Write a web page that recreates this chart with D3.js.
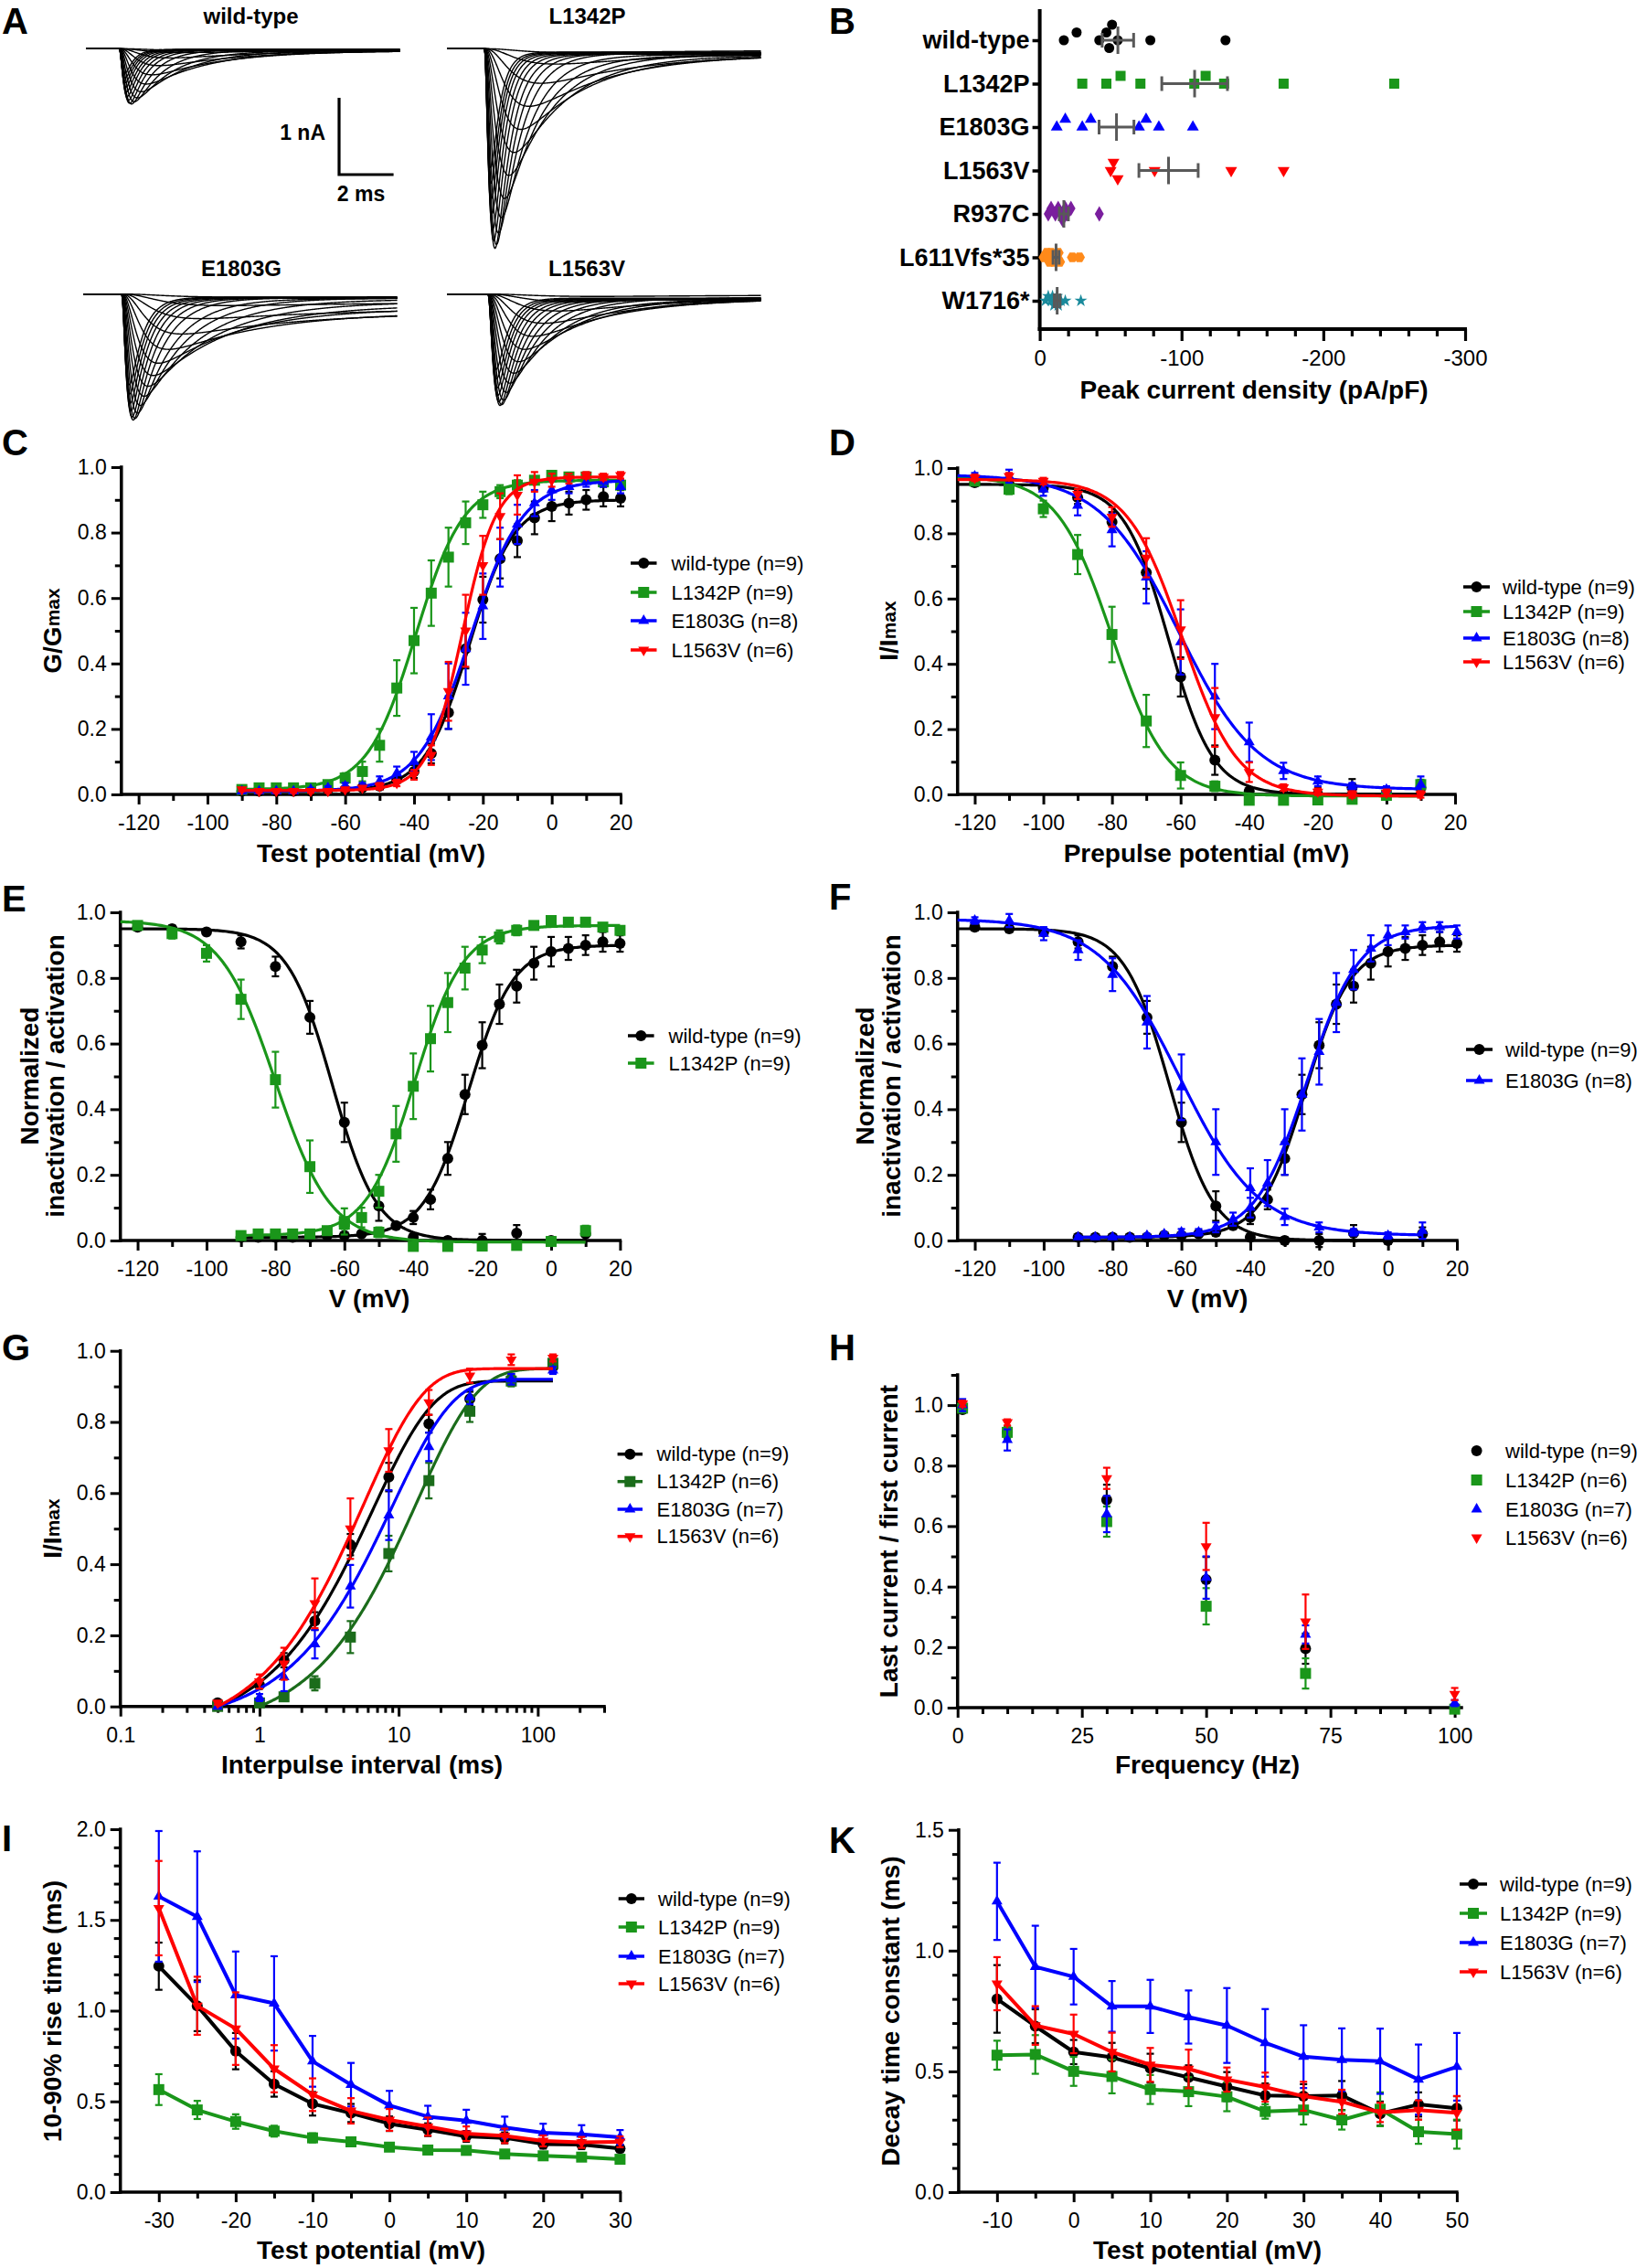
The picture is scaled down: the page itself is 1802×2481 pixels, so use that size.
<!DOCTYPE html>
<html><head><meta charset="utf-8">
<script src="https://cdn.jsdelivr.net/npm/d3@7/dist/d3.min.js"></script>
<style>html,body{margin:0;padding:0;background:#fff;}svg{display:block;}</style>
</head><body>
<svg id="fig" width="1802" height="2481" xmlns="http://www.w3.org/2000/svg"></svg>
<script>
// ================= DATA =================
// Panel A : current-trace families (peak amplitude nA, inactivation tau ms, persistent fraction)
const TRACE_TAU_M = [0.9,0.75,0.6,0.48,0.39,0.32,0.27,0.23,0.2,0.17,0.15,0.135,0.12,0.11,0.1,0.095,0.09,0.085];
const TR_WT_AMP  = [0.02,0.05,0.12,0.22,0.34,0.46,0.56,0.64,0.69,0.72,0.71,0.67,0.62,0.56,0.5,0.44,0.38,0.32];
const TR_WT_TAUH = [4.5,4.0,3.5,3.0,2.6,2.2,1.7,1.3,1.0,0.75,0.6,0.52,0.46,0.42,0.38,0.35,0.33,0.31];
const TR_WT_SS   = [0.3,0.2,0.1,0.06,0.04,0.03,0.02,0.02,0.01,0.01,0.01,0.01,0.01,0.01,0.01,0.01,0.01,0.01];
const TR_L1342P_AMP  = [0.05,0.2,0.45,0.75,1.05,1.35,1.65,1.95,2.2,2.4,2.55,2.6,2.5,2.35,2.15,1.95,1.75,1.55];
const TR_L1342P_TAUH = [5.0,4.2,3.5,2.9,2.4,2.0,1.6,1.25,1.0,0.8,0.65,0.55,0.48,0.43,0.39,0.36,0.34,0.32];
const TR_L1342P_SS   = [0.2,0.12,0.08,0.05,0.04,0.03,0.02,0.02,0.015,0.01,0.01,0.01,0.01,0.01,0.01,0.01,0.01,0.01];
const TR_E1803G_AMP  = [0.04,0.15,0.32,0.52,0.72,0.9,1.06,1.2,1.33,1.45,1.55,1.62,1.64,1.6,1.52,1.42,1.3,1.18];
const TR_E1803G_TAUH = [7,6,5,4.2,3.5,2.9,2.8,2.4,2.0,1.6,1.25,0.95,0.78,0.67,0.6,0.54,0.5,0.47];
const TR_E1803G_SS   = [0.6,0.5,0.4,0.3,0.2,0.12,0.08,0.05,0.03,0.02,0.02,0.015,0.015,0.015,0.015,0.015,0.015,0.015];
const TR_L1563V_AMP  = [0.03,0.1,0.22,0.38,0.55,0.72,0.88,1.03,1.16,1.28,1.38,1.44,1.45,1.4,1.32,1.22,1.1,0.98];
const TR_L1563V_TAUH = [6,5,4.2,3.5,2.9,2.4,2.0,1.65,1.35,1.1,0.9,0.75,0.65,0.58,0.52,0.48,0.45,0.42];
const TR_L1563V_SS   = [0.15,0.1,0.08,0.06,0.05,0.04,0.03,0.03,0.02,0.02,0.02,0.02,0.02,0.02,0.02,0.02,0.02,0.02];
const TR_ONSET = [1.2, 1.35, 1.38, 1.48];       // ms
const TR_TAUM_FACTOR = [1.0, 1.2, 1.3, 1.5];
const TR_TITLES = ['wild-type','L1342P','E1803G','L1563V'];

// Panel B : peak current density (pA/pF)
const B_CATS = ['wild-type','L1342P','E1803G','L1563V','R937C','L611Vfs*35','W1716*'];
const B_WT = [-17,-26,-42,-47,-49,-51,-55,-78,-131];
const B_L1342P = [-30,-47,-57,-71,-109,-117,-130,-172,-250];
const B_E1803G = [-12,-18,-30,-36,-70,-75,-84,-108];
const B_L1563V = [-50,-52,-55,-81,-135,-172];
const B_R937C = [-6,-8,-11,-13,-15,-16,-18,-19,-22,-42];
const B_L611 = [-3,-5,-6,-7,-8,-9,-10,-12,-13,-14,-23,-28];
const B_W1716 = [-4,-6,-8,-9,-10,-11,-12,-13,-15,-18,-29];
const B_X_TICKS = [0,-100,-200,-300];
const B_X_MINOR = [-20,-40,-60,-80,-120,-140,-160,-180,-220,-240,-260,-280];

// Panel C / E / F : activation (G/Gmax)
const ACT_V = [-90,-85,-80,-75,-70,-65,-60,-55,-50,-45,-40,-35,-30,-25,-20,-15,-10,-5,0,5,10,15,20];
const ACT_WT = [0.01,0.01,0.01,0.01,0.01,0.015,0.015,0.02,0.025,0.045,0.07,0.125,0.25,0.445,0.595,0.72,0.775,0.845,0.88,0.89,0.9,0.91,0.905];
const ACT_WT_ERR = [0.005,0.005,0.005,0.005,0.005,0.005,0.005,0.005,0.01,0.01,0.02,0.03,0.05,0.06,0.07,0.06,0.05,0.05,0.045,0.035,0.03,0.03,0.025];
const ACT_L1342P = [0.015,0.02,0.02,0.02,0.02,0.03,0.05,0.07,0.15,0.325,0.47,0.615,0.725,0.83,0.885,0.925,0.945,0.96,0.975,0.97,0.97,0.955,0.945];
const ACT_L1342P_ERR = [0.005,0.005,0.005,0.005,0.005,0.01,0.015,0.03,0.05,0.085,0.1,0.1,0.09,0.065,0.04,0.02,0.015,0.01,0.01,0.01,0.01,0.01,0.01];
const ACT_E1803G = [0.01,0.01,0.01,0.01,0.015,0.02,0.025,0.025,0.04,0.065,0.1,0.175,0.3,0.445,0.575,0.725,0.825,0.89,0.93,0.94,0.955,0.955,0.94];
const ACT_E1803G_ERR = [0.005,0.005,0.005,0.005,0.005,0.005,0.01,0.01,0.015,0.02,0.03,0.07,0.1,0.11,0.1,0.09,0.06,0.04,0.03,0.02,0.015,0.015,0.02];
const ACT_L1563V = [0.015,0.01,0.01,0.01,0.01,0.01,0.015,0.02,0.025,0.035,0.06,0.12,0.315,0.5,0.7,0.85,0.915,0.955,0.96,0.965,0.975,0.97,0.975];
const ACT_L1563V_ERR = [0.005,0.005,0.005,0.005,0.005,0.005,0.005,0.005,0.01,0.01,0.015,0.03,0.09,0.11,0.09,0.07,0.06,0.03,0.02,0.015,0.01,0.01,0.01];
// Boltzmann fit parameters [top, bottom, V1/2, k]
const FIT_ACT_WT = [0.9, 0.01, -24, 6.5];
const FIT_ACT_L1342P = [0.96, 0.015, -39.5, 7];
const FIT_ACT_E1803G = [0.96, 0.01, -23.5, 7.5];
const FIT_ACT_L1563V = [0.97, 0.012, -26, 5];

// Panel D / E / F : steady-state inactivation (I/Imax)
const INACT_V = [-120,-110,-100,-90,-80,-70,-60,-50,-40,-30,-20,-10,0,10];
const INACT_WT = [0.955,0.95,0.94,0.91,0.835,0.68,0.36,0.105,0.01,0.0,0.0,0.022,0.0,0.02];
const INACT_WT_ERR = [0.01,0.01,0.01,0.02,0.03,0.05,0.06,0.045,0.01,0.01,0.02,0.025,0.01,0.02];
const INACT_L1342P = [0.96,0.935,0.875,0.735,0.49,0.225,0.058,0.025,-0.018,-0.018,-0.017,-0.015,-0.003,0.03];
const INACT_L1342P_ERR = [0.01,0.015,0.025,0.06,0.085,0.08,0.04,0.015,0.01,0.01,0.01,0.01,0.01,0.015];
const INACT_E1803G = [0.975,0.975,0.935,0.885,0.81,0.665,0.467,0.3,0.16,0.072,0.04,0.025,0.015,0.03];
const INACT_E1803G_ERR = [0.01,0.02,0.02,0.03,0.05,0.08,0.1,0.1,0.06,0.025,0.015,0.01,0.01,0.025];
const INACT_L1563V = [0.97,0.975,0.96,0.92,0.85,0.725,0.505,0.236,0.068,0.021,0.008,0.0,0.005,0.0];
const INACT_L1563V_ERR = [0.01,0.01,0.01,0.015,0.03,0.06,0.09,0.09,0.03,0.01,0.01,0.01,0.01,0.01];
const FIT_INACT_WT = [0.95, 0.0, -63.5, 6.5];
const FIT_INACT_L1342P = [0.975, -0.005, -80, 8];
const FIT_INACT_E1803G = [0.98, 0.015, -60.5, 11.5];
const FIT_INACT_L1563V = [0.965, -0.005, -59.5, 8];

// Panel G : recovery from inactivation
const REC_T = [0.5,1,1.5,2.5,4.5,8.5,16.5,32.5,64.5,128.5];
const REC_WT = [0.01,0.06,0.13,0.24,0.455,0.645,0.795,0.865,0.92,0.955];
const REC_WT_ERR = [0.005,0.01,0.02,0.025,0.03,0.04,0.025,0.02,0.015,0.01];
const REC_L1342P = [0.0,0.01,0.027,0.065,0.195,0.43,0.635,0.83,0.915,0.965];
const REC_L1342P_ERR = [0.005,0.01,0.01,0.02,0.045,0.05,0.05,0.03,0.015,0.015];
const REC_E1803G = [0.0,0.025,0.083,0.175,0.338,0.538,0.73,0.87,0.92,0.945];
const REC_E1803G_ERR = [0.005,0.01,0.04,0.04,0.06,0.07,0.04,0.02,0.015,0.01];
const REC_L1563V = [0.01,0.07,0.12,0.29,0.5,0.72,0.855,0.93,0.975,0.98];
const REC_L1563V_ERR = [0.005,0.02,0.045,0.07,0.085,0.06,0.035,0.02,0.015,0.01];
// exponential fit [plateau, t0, tau]
const FIT_REC_WT = [0.915, 0.5, 6.5];
const FIT_REC_L1342P = [0.95, 1.0, 13.5];
const FIT_REC_E1803G = [0.92, 0.5, 9];
const FIT_REC_L1563V = [0.95, 0.5, 5.6];

// Panel H : frequency dependence
const FREQ = [1,10,30,50,70,100];
const FRQ_WT = [0.985,0.91,0.687,0.423,0.195,0.0];
const FRQ_WT_ERR = [0.01,0.02,0.05,0.075,0.05,0.005];
const FRQ_L1342P = [0.99,0.91,0.615,0.335,0.113,-0.005];
const FRQ_L1342P_ERR = [0.01,0.02,0.05,0.06,0.05,0.005];
const FRQ_E1803G = [1.0,0.885,0.64,0.43,0.242,0.015];
const FRQ_E1803G_ERR = [0.02,0.035,0.06,0.07,0.03,0.01];
const FRQ_L1563V = [1.005,0.943,0.758,0.533,0.284,0.045];
const FRQ_L1563V_ERR = [0.01,0.01,0.035,0.078,0.09,0.02];

// Panel I : 10-90% rise time
const RISE_V = [-30,-25,-20,-15,-10,-5,0,5,10,15,20,25,30];
const RISE_WT = [1.245,1.027,0.777,0.596,0.487,0.436,0.377,0.344,0.307,0.299,0.265,0.262,0.24];
const RISE_WT_ERR = [0.13,0.14,0.1,0.07,0.065,0.05,0.04,0.035,0.03,0.03,0.025,0.025,0.02];
const RISE_L1342P = [0.565,0.453,0.389,0.336,0.299,0.277,0.248,0.232,0.23,0.21,0.2,0.193,0.181];
const RISE_L1342P_ERR = [0.085,0.05,0.04,0.03,0.025,0.02,0.015,0.015,0.015,0.015,0.015,0.01,0.01];
const RISE_E1803G = [1.63,1.518,1.086,1.04,0.721,0.592,0.478,0.416,0.394,0.356,0.327,0.319,0.302];
const RISE_E1803G_ERR = [0.36,0.36,0.24,0.26,0.14,0.12,0.08,0.06,0.06,0.06,0.05,0.05,0.04];
const RISE_L1563V = [1.565,1.027,0.901,0.68,0.537,0.448,0.398,0.361,0.322,0.31,0.282,0.274,0.277];
const RISE_L1563V_ERR = [0.26,0.16,0.2,0.13,0.09,0.07,0.06,0.05,0.04,0.04,0.03,0.03,0.03];

// Panel K : decay time constant
const DEC_V = [-10,-5,0,5,10,15,20,25,30,35,40,45,50];
const DEC_WT = [0.8,0.687,0.58,0.558,0.513,0.475,0.437,0.4,0.397,0.4,0.325,0.363,0.347];
const DEC_WT_ERR = [0.14,0.07,0.05,0.06,0.06,0.05,0.06,0.05,0.05,0.06,0.05,0.05,0.05];
const DEC_L1342P = [0.567,0.57,0.5,0.479,0.425,0.416,0.395,0.334,0.34,0.299,0.343,0.25,0.24];
const DEC_L1342P_ERR = [0.06,0.08,0.06,0.07,0.06,0.06,0.06,0.03,0.06,0.04,0.07,0.05,0.06];
const DEC_E1803G = [1.204,0.933,0.892,0.769,0.769,0.725,0.69,0.618,0.561,0.548,0.542,0.466,0.519];
const DEC_E1803G_ERR = [0.16,0.17,0.115,0.105,0.11,0.11,0.155,0.14,0.13,0.13,0.135,0.145,0.14];
const DEC_L1563V = [0.863,0.69,0.655,0.58,0.527,0.51,0.466,0.435,0.397,0.374,0.33,0.34,0.328];
const DEC_L1563V_ERR = [0.11,0.08,0.08,0.08,0.07,0.08,0.05,0.06,0.06,0.05,0.04,0.04,0.07];

// tick values
const MV_TICKS = [-120,-100,-80,-60,-40,-20,0,20];
const MV_MINOR = [-110,-90,-70,-50,-30,-10,10];
const FRAC_TICKS = [0,0.2,0.4,0.6,0.8,1.0];
const FRAC_MINOR = [0.1,0.3,0.5,0.7,0.9];
const LOG_TICKS = [0.1,1,10,100];
const LOG_MINOR = [0.2,0.3,0.4,0.5,0.6,0.7,0.8,0.9,2,3,4,5,6,7,8,9,20,30,40,50,60,70,80,90,200,300];
const HZ_TICKS = [0,25,50,75,100];
const HZ_MINOR = [5,10,15,20,30,35,40,45,55,60,65,70,80,85,90,95];
const H_Y_MINOR = [0.1,0.3,0.5,0.7,0.9,1.1];
const RISE_X_TICKS = [-30,-20,-10,0,10,20,30];
const RISE_X_MINOR = [-25,-15,-5,5,15,25];
const RISE_Y_TICKS = [0,0.5,1.0,1.5,2.0];
const RISE_Y_MINOR = [0.1,0.2,0.3,0.4,0.6,0.7,0.8,0.9,1.1,1.2,1.3,1.4,1.6,1.7,1.8,1.9];
const DEC_X_TICKS = [-10,0,10,20,30,40,50];
const DEC_X_MINOR = [-5,5,15,25,35,45];
const DEC_Y_TICKS = [0,0.5,1.0,1.5];
const DEC_Y_MINOR = [0.1,0.2,0.3,0.4,0.6,0.7,0.8,0.9,1.1,1.2,1.3,1.4];

const LEG_4A = ['wild-type (n=9)','L1342P (n=9)','E1803G (n=8)','L1563V (n=6)'];
const LEG_4G = ['wild-type (n=9)','L1342P (n=6)','E1803G (n=7)','L1563V (n=6)'];
const LEG_4I = ['wild-type (n=9)','L1342P (n=9)','E1803G (n=7)','L1563V (n=6)'];
const LEG_E = ['wild-type (n=9)','L1342P (n=9)'];
const LEG_F = ['wild-type (n=9)','E1803G (n=8)'];

// ================= STYLE =================
const FONT = '"Liberation Sans", Arial, Helvetica, sans-serif';
const BLACK = '#000000', GREEN = '#1a961a', GREEN_D = '#1b6c1b', BLUE = '#0000ff', RED = '#ff0000';
const PURPLE = '#7a1e9e', ORANGE = '#ff8a1a', TEAL = '#1a8a9c', GRAY = '#595959';
const SHAPES = ['circle','square','triUp','triDown'];

const svg = d3.select('#fig').attr('font-family', FONT);

function symPath(shape, s) {
  const gen = d3.symbol();
  switch (shape) {
    case 'circle': return gen.type(d3.symbolCircle).size(Math.PI * s * s / 4)();
    case 'square': return gen.type(d3.symbolSquare).size(s * s)();
    case 'triUp': case 'triDown': return gen.type(d3.symbolTriangle).size(0.433 * s * s)();
    case 'diamond': return gen.type(d3.symbolDiamond).size(s * s * 0.5)();
    case 'star': return gen.type(d3.symbolStar).size(s * s * 0.42)();
    case 'hex': {
      const r = s / 2, p = d3.path();
      for (let i = 0; i < 6; i++) { const a = Math.PI / 3 * i; const fx = r * Math.cos(a), fy = r * Math.sin(a); i ? p.lineTo(fx, fy) : p.moveTo(fx, fy); }
      p.closePath(); return p.toString();
    }
  }
}
function marker(g, shape, s, x, y, color) {
  g.append('path').attr('d', symPath(shape, s))
    .attr('transform', `translate(${x},${y})` + (shape === 'triDown' ? ' rotate(180)' : ''))
    .attr('fill', color);
}
function panelLabel(t, x, y) {
  svg.append('text').attr('x', x).attr('y', y).attr('font-size', 40).attr('font-weight', 'bold').text(t);
}
const fmt1 = d => d.toFixed(1);
const fmtI = d => String(d);

function axisX(g, x, yPos, major, minor, fmt, xEnd) {
  const gg = g.append('g').attr('transform', `translate(0,${yPos})`);
  if (minor && minor.length) {
    const m = gg.append('g').call(d3.axisBottom(x).tickValues(minor).tickSize(7).tickSizeOuter(0).tickFormat(''));
    m.select('.domain').remove(); m.selectAll('line').attr('stroke-width', 3);
  }
  const M = gg.append('g').call(d3.axisBottom(x).tickValues(major).tickSize(11).tickSizeOuter(0).tickPadding(12).tickFormat(fmt))
    .attr('font-size', 23).attr('font-family', FONT);
  M.select('.domain').remove(); M.selectAll('line').attr('stroke-width', 3);
  const r = x.range();
  gg.append('line').attr('x1', r[0]).attr('x2', xEnd || r[1]).attr('stroke', '#000').attr('stroke-width', 3.5).attr('stroke-linecap', 'square');
}
function axisY(g, y, xPos, major, minor, fmt) {
  const gg = g.append('g').attr('transform', `translate(${xPos},0)`);
  if (minor && minor.length) {
    const m = gg.append('g').call(d3.axisLeft(y).tickValues(minor).tickSize(7).tickSizeOuter(0).tickFormat(''));
    m.select('.domain').remove(); m.selectAll('line').attr('stroke-width', 3);
  }
  const M = gg.append('g').call(d3.axisLeft(y).tickValues(major).tickSize(11).tickSizeOuter(0).tickPadding(5).tickFormat(fmt))
    .attr('font-size', 23).attr('font-family', FONT);
  M.select('.domain').remove(); M.selectAll('line').attr('stroke-width', 3);
  const r = y.range();
  gg.append('line').attr('y1', r[0]).attr('y2', r[1]).attr('stroke', '#000').attr('stroke-width', 3.5).attr('stroke-linecap', 'square');
}

function drawSeries(g, x, y, s) {
  const gg = g.append('g');
  s.xv.forEach((xv, i) => {
    const e = s.err ? s.err[i] : 0;
    if (!(e > 0)) return;
    const px = x(xv), y1 = y(s.yv[i] + e), y2 = y(s.yv[i] - e);
    gg.append('line').attr('x1', px).attr('x2', px).attr('y1', y1).attr('y2', y2).attr('stroke', s.color).attr('stroke-width', 2.2);
    [y1, y2].forEach(yy => gg.append('line').attr('x1', px - 4).attr('x2', px + 4).attr('y1', yy).attr('y2', yy).attr('stroke', s.color).attr('stroke-width', 2.2));
  });
  if (s.fit) {
    const f = s.fit, n = 240;
    const pts = d3.range(n + 1).map(i => f.log
      ? Math.exp(Math.log(f.from) + i / n * (Math.log(f.to) - Math.log(f.from)))
      : f.from + i / n * (f.to - f.from));
    gg.append('path').attr('d', d3.line().x(v => x(v)).y(v => y(f.fn(v)))(pts))
      .attr('fill', 'none').attr('stroke', s.color).attr('stroke-width', 3.2);
  }
  if (s.connect) {
    gg.append('path').attr('d', d3.line().x(d => x(d[0])).y(d => y(d[1]))(s.xv.map((v, i) => [v, s.yv[i]])))
      .attr('fill', 'none').attr('stroke', s.color).attr('stroke-width', 4).attr('stroke-linejoin', 'round');
  }
  s.xv.forEach((xv, i) => marker(gg, s.shape, s.size || 12, x(xv), y(s.yv[i]), s.color));
}

function legend(g, L) {
  L.names.forEach((n, i) => {
    const yy = L.rows[i];
    if (L.line) g.append('line').attr('x1', L.lx[0]).attr('x2', L.lx[1]).attr('y1', yy).attr('y2', yy).attr('stroke', L.colors[i]).attr('stroke-width', 3.5);
    marker(g, L.shapes[i], 12, (L.lx[0] + L.lx[1]) / 2, yy, L.colors[i]);
    g.append('text').attr('x', L.tx).attr('y', yy).attr('dy', '0.35em').attr('font-size', 22).text(n);
  });
}

function yTitle(g, x, yc, parts) {
  const t = g.append('text').attr('transform', `translate(${x},${yc}) rotate(-90)`)
    .attr('text-anchor', 'middle').attr('dominant-baseline', 'central').attr('font-weight', 'bold');
  parts.forEach(p => t.append('tspan').attr('font-size', p[1]).text(p[0]));
}

function panel(cfg) {
  const g = svg.append('g');
  const x = (cfg.log ? d3.scaleLog() : d3.scaleLinear()).domain(cfg.xDomain).range(cfg.xRange);
  const y = d3.scaleLinear().domain(cfg.yDomain).range(cfg.yRange);
  axisX(g, x, cfg.yRange[0], cfg.xMajor, cfg.xMinor, cfg.xFmt, cfg.xEnd);
  axisY(g, y, cfg.xRange[0], cfg.yMajor, cfg.yMinor, cfg.yFmt);
  g.append('text').attr('x', cfg.xTitle[1]).attr('y', cfg.xTitle[2]).attr('text-anchor', 'middle')
    .attr('font-size', 28).attr('font-weight', 'bold').text(cfg.xTitle[0]);
  cfg.yTitles.forEach(t => yTitle(g, t.x, t.y, t.parts));
  cfg.series.forEach(s => drawSeries(g, x, y, s));
  legend(g, cfg.legend);
}

const act = p => v => p[1] + (p[0] - p[1]) / (1 + Math.exp((p[2] - v) / p[3]));
const inact = p => v => p[1] + (p[0] - p[1]) / (1 + Math.exp((v - p[2]) / p[3]));
const recov = p => t => t <= p[1] ? 0 : p[0] * (1 - Math.exp(-(t - p[1]) / p[2]));

// ================= PANEL A =================
panelLabel('A', 2, 37);
(function () {
  const g = svg.append('g');
  const layout = [[94.5, 53.3], [489.5, 53.3], [91.6, 321.7], [489.5, 321.7]];
  const titlePos = [[274.5, 26], [642.5, 26], [264, 302], [642, 302]];
  const AMPS = [TR_WT_AMP, TR_L1342P_AMP, TR_E1803G_AMP, TR_L1563V_AMP];
  const TAUH = [TR_WT_TAUH, TR_L1342P_TAUH, TR_E1803G_TAUH, TR_L1563V_TAUH];
  const SS = [TR_WT_SS, TR_L1342P_SS, TR_E1803G_SS, TR_L1563V_SS];
  const ts = d3.range(0, 11.5001, 0.02);
  layout.forEach((L, k) => {
    const tx = d3.scaleLinear().domain([0, 11.5]).range([L[0], L[0] + 343]);
    const iy = d3.scaleLinear().domain([0, -1]).range([L[1], L[1] + 84]);
    AMPS[k].forEach((a, i) => {
      const tm = TRACE_TAU_M[i] * TR_TAUM_FACTOR[k], th = TAUH[k][i], p = SS[k][i];
      const f = tt => { if (tt <= 0) return 0; const m = 1 - Math.exp(-tt / tm), h = Math.exp(-tt / th); return m * m * m * (h + p * (1 - h)); };
      const fmax = d3.max(d3.range(0, 10, 0.005), f);
      g.append('path').attr('d', d3.line().x(t => tx(t)).y(t => iy(-a * f(t - TR_ONSET[k]) / fmax))(ts))
        .attr('fill', 'none').attr('stroke', '#000').attr('stroke-width', 1.4).attr('stroke-linejoin', 'round');
    });
    g.append('text').attr('x', titlePos[k][0]).attr('y', titlePos[k][1]).attr('text-anchor', 'middle')
      .attr('font-size', 24).attr('font-weight', 'bold').text(TR_TITLES[k]);
  });
  // scale bar: 1 nA, 2 ms
  const bx = d3.scaleLinear().domain([0, 2]).range([371, 430.6]);
  const by = d3.scaleLinear().domain([0, 1]).range([191, 107]);
  g.append('path').attr('d', `M${bx(0)},${by(1)}V${by(0)}H${bx(2)}`).attr('fill', 'none').attr('stroke', '#000').attr('stroke-width', 3.2);
  g.append('text').attr('x', 356).attr('y', 153).attr('text-anchor', 'end').attr('font-size', 23).attr('font-weight', 'bold').text('1 nA');
  g.append('text').attr('x', 395).attr('y', 220).attr('text-anchor', 'middle').attr('font-size', 23).attr('font-weight', 'bold').text('2 ms');
})();

// ================= PANEL B =================
panelLabel('B', 907, 37);
(function () {
  const g = svg.append('g');
  const x = d3.scaleLinear().domain([0, -300]).range([1137.6, 1603]);
  const y = d3.scalePoint().domain(B_CATS).range([44, 329]);
  const axTop = 12, axBot = 360;
  const gx = g.append('g').attr('transform', `translate(0,${axBot})`);
  const mn = gx.append('g').call(d3.axisBottom(x).tickValues(B_X_MINOR).tickSize(8).tickSizeOuter(0).tickFormat(''));
  mn.select('.domain').remove(); mn.selectAll('line').attr('stroke-width', 3.2);
  const mj = gx.append('g').call(d3.axisBottom(x).tickValues(B_X_TICKS).tickSize(13).tickSizeOuter(0).tickPadding(10).tickFormat(fmtI))
    .attr('font-size', 24).attr('font-family', FONT);
  mj.select('.domain').remove(); mj.selectAll('line').attr('stroke-width', 3.2);
  gx.append('line').attr('x1', x(0)).attr('x2', x(-300)).attr('stroke', '#000').attr('stroke-width', 4).attr('stroke-linecap', 'square');
  const gy = g.append('g').attr('transform', `translate(${x(0)},0)`);
  const ya = gy.append('g').call(d3.axisLeft(y).tickSize(8).tickSizeOuter(0).tickPadding(3))
    .attr('font-size', 27).attr('font-family', FONT).attr('font-weight', 'bold');
  ya.select('.domain').remove(); ya.selectAll('line').attr('stroke-width', 3.5);
  gy.append('line').attr('y1', axTop).attr('y2', axBot).attr('stroke', '#000').attr('stroke-width', 4).attr('stroke-linecap', 'square');
  g.append('text').attr('x', 1372).attr('y', 436).attr('text-anchor', 'middle').attr('font-size', 28).attr('font-weight', 'bold')
    .text('Peak current density (pA/pF)');

  // [values, shape, size, colour, collision width px, vertical step px]
  const groups = [
    [B_WT, 'circle', 11, BLACK, 16, 8.5], [B_L1342P, 'square', 11, GREEN, 17, 8.5], [B_E1803G, 'triUp', 13, BLUE, 17, 8.5],
    [B_L1563V, 'triDown', 13, RED, 17, 9], [B_R937C, 'diamond', 13, PURPLE, 5, 6], [B_L611, 'hex', 12, ORANGE, 4, 5],
    [B_W1716, 'star', 12, TEAL, 4, 5]];
  groups.forEach((G, k) => {
    const cy = y(B_CATS[k]);
    const wx = G[4], step = G[5];
    const pts = G[0].map(v => ({ v, px: x(v), dy: 0 })).sort((a, b) => a.px - b.px);
    const placed = [];
    pts.forEach(p => {
      for (const c of [0, -1, 1, -2, 2, -3, 3]) {
        const dy = c * step;
        if (placed.every(q => Math.abs(q.px - p.px) >= wx || Math.abs(q.dy - dy) >= step)) { p.dy = dy; break; }
      }
      placed.push(p);
    });
    pts.forEach(p => marker(g, G[1], G[2], p.px, cy + p.dy, G[3]));
    const m = d3.mean(G[0]), se = d3.deviation(G[0]) / Math.sqrt(G[0].length);
    const bar = g.append('g').attr('stroke', GRAY).attr('stroke-width', 3);
    bar.append('line').attr('x1', x(m - se)).attr('x2', x(m + se)).attr('y1', cy).attr('y2', cy);
    bar.append('line').attr('x1', x(m)).attr('x2', x(m)).attr('y1', cy - 15).attr('y2', cy + 15);
    [m - se, m + se].forEach(v => bar.append('line').attr('x1', x(v)).attr('x2', x(v)).attr('y1', cy - 8).attr('y2', cy + 8));
  });
})();

// ================= PANELS C-K =================
const COL4 = [BLACK, GREEN, BLUE, RED];
const actSeries = (xv, yv, err, fit, color, shape) => ({ xv, yv, err, color, shape, fit: { fn: act(fit), from: -90, to: 20 } });
const inSeries = (xv, yv, err, fit, color, shape) => ({ xv, yv, err, color, shape, fit: { fn: inact(fit), from: -125, to: 10 } });

panelLabel('C', 2, 498);
panel({
  xDomain: [-125, 20], xRange: [132.8, 679], yDomain: [0, 1], yRange: [869, 511],
  xMajor: MV_TICKS, xMinor: MV_MINOR, xFmt: fmtI, yMajor: FRAC_TICKS, yMinor: FRAC_MINOR, yFmt: fmt1,
  xTitle: ['Test potential (mV)', 406, 943],
  yTitles: [{ x: 57, y: 690, parts: [['G/G', 28], ['max', 21]] }],
  series: [
    actSeries(ACT_V, ACT_WT, ACT_WT_ERR, FIT_ACT_WT, BLACK, 'circle'),
    actSeries(ACT_V, ACT_L1342P, ACT_L1342P_ERR, FIT_ACT_L1342P, GREEN, 'square'),
    actSeries(ACT_V, ACT_E1803G, ACT_E1803G_ERR, FIT_ACT_E1803G, BLUE, 'triUp'),
    actSeries(ACT_V, ACT_L1563V, ACT_L1563V_ERR, FIT_ACT_L1563V, RED, 'triDown')],
  legend: { names: LEG_4A, rows: [616, 648, 679, 711], lx: [690, 718.5], tx: 734.5, line: true, colors: COL4, shapes: SHAPES }
});

panelLabel('D', 907, 498);
panel({
  xDomain: [-125, 20], xRange: [1047.7, 1592], yDomain: [0, 1], yRange: [869, 512],
  xMajor: MV_TICKS, xMinor: MV_MINOR, xFmt: fmtI, yMajor: FRAC_TICKS, yMinor: FRAC_MINOR, yFmt: fmt1,
  xTitle: ['Prepulse potential (mV)', 1320, 943],
  yTitles: [{ x: 972, y: 690, parts: [['I/I', 28], ['max', 21]] }],
  series: [
    inSeries(INACT_V, INACT_WT, INACT_WT_ERR, FIT_INACT_WT, BLACK, 'circle'),
    inSeries(INACT_V, INACT_L1342P, INACT_L1342P_ERR, FIT_INACT_L1342P, GREEN, 'square'),
    inSeries(INACT_V, INACT_E1803G, INACT_E1803G_ERR, FIT_INACT_E1803G, BLUE, 'triUp'),
    inSeries(INACT_V, INACT_L1563V, INACT_L1563V_ERR, FIT_INACT_L1563V, RED, 'triDown')],
  legend: { names: LEG_4A, rows: [642, 669, 698, 724], lx: [1601, 1630], tx: 1644, line: true, colors: COL4, shapes: SHAPES }
});

panelLabel('E', 2, 997);
panel({
  xDomain: [-125, 20], xRange: [131.7, 678.4], yDomain: [0, 1], yRange: [1357, 998],
  xMajor: MV_TICKS, xMinor: MV_MINOR, xFmt: fmtI, yMajor: FRAC_TICKS, yMinor: FRAC_MINOR, yFmt: fmt1,
  xTitle: ['V (mV)', 404, 1430],
  yTitles: [{ x: 31.5, y: 1177, parts: [['Normalized', 28]] }, { x: 60, y: 1177, parts: [['inactivation / activation', 28]] }],
  series: [
    inSeries(INACT_V, INACT_WT, INACT_WT_ERR, FIT_INACT_WT, BLACK, 'circle'),
    actSeries(ACT_V, ACT_WT, ACT_WT_ERR, FIT_ACT_WT, BLACK, 'circle'),
    inSeries(INACT_V, INACT_L1342P, INACT_L1342P_ERR, FIT_INACT_L1342P, GREEN, 'square'),
    actSeries(ACT_V, ACT_L1342P, ACT_L1342P_ERR, FIT_ACT_L1342P, GREEN, 'square')],
  legend: { names: LEG_E, rows: [1133, 1163], lx: [687, 715.6], tx: 731.6, line: true, colors: [BLACK, GREEN], shapes: ['circle', 'square'] }
});

panelLabel('F', 907, 995);
panel({
  xDomain: [-125, 20], xRange: [1047.7, 1594], yDomain: [0, 1], yRange: [1357, 998],
  xMajor: MV_TICKS, xMinor: MV_MINOR, xFmt: fmtI, yMajor: FRAC_TICKS, yMinor: FRAC_MINOR, yFmt: fmt1,
  xTitle: ['V (mV)', 1321, 1430],
  yTitles: [{ x: 946, y: 1177, parts: [['Normalized', 28]] }, { x: 975, y: 1177, parts: [['inactivation / activation', 28]] }],
  series: [
    inSeries(INACT_V, INACT_WT, INACT_WT_ERR, FIT_INACT_WT, BLACK, 'circle'),
    actSeries(ACT_V, ACT_WT, ACT_WT_ERR, FIT_ACT_WT, BLACK, 'circle'),
    inSeries(INACT_V, INACT_E1803G, INACT_E1803G_ERR, FIT_INACT_E1803G, BLUE, 'triUp'),
    actSeries(ACT_V, ACT_E1803G, ACT_E1803G_ERR, FIT_ACT_E1803G, BLUE, 'triUp')],
  legend: { names: LEG_F, rows: [1148, 1182], lx: [1604, 1633], tx: 1647, line: true, colors: [BLACK, BLUE], shapes: ['circle', 'triUp'] }
});

panelLabel('G', 2, 1488);
const recSeries = (yv, err, fit, color, shape) => ({ xv: REC_T, yv, err, color, shape, fit: { fn: recov(fit), from: fit[1], to: 128.5, log: true } });
panel({
  log: true, xDomain: [0.1, 300], xRange: [131.7, 661], yDomain: [0, 1], yRange: [1866.7, 1477.7],
  xMajor: LOG_TICKS, xMinor: LOG_MINOR, xFmt: fmtI, yMajor: FRAC_TICKS, yMinor: FRAC_MINOR, yFmt: fmt1,
  xTitle: ['Interpulse interval (ms)', 396, 1940],
  yTitles: [{ x: 57, y: 1672, parts: [['I/I', 28], ['max', 21]] }],
  series: [
    recSeries(REC_WT, REC_WT_ERR, FIT_REC_WT, BLACK, 'circle'),
    recSeries(REC_L1342P, REC_L1342P_ERR, FIT_REC_L1342P, GREEN_D, 'square'),
    recSeries(REC_E1803G, REC_E1803G_ERR, FIT_REC_E1803G, BLUE, 'triUp'),
    recSeries(REC_L1563V, REC_L1563V_ERR, FIT_REC_L1563V, RED, 'triDown')],
  legend: { names: LEG_4G, rows: [1590.7, 1620.7, 1651, 1680.7], lx: [675.6, 703], tx: 718.5, line: true, colors: [BLACK, GREEN_D, BLUE, RED], shapes: SHAPES }
});

panelLabel('H', 907, 1488);
const frqSeries = (yv, err, color, shape) => ({ xv: FREQ, yv, err, color, shape });
panel({
  xDomain: [0, 100], xRange: [1047.7, 1591.6], xEnd: 1599, yDomain: [0, 1.1], yRange: [1868, 1504],
  xMajor: HZ_TICKS, xMinor: HZ_MINOR, xFmt: fmtI, yMajor: FRAC_TICKS, yMinor: H_Y_MINOR, yFmt: fmt1,
  xTitle: ['Frequency (Hz)', 1321, 1940],
  yTitles: [{ x: 972, y: 1686, parts: [['Last current / first current', 28]] }],
  series: [
    frqSeries(FRQ_WT, FRQ_WT_ERR, BLACK, 'circle'),
    frqSeries(FRQ_L1342P, FRQ_L1342P_ERR, GREEN, 'square'),
    frqSeries(FRQ_E1803G, FRQ_E1803G_ERR, BLUE, 'triUp'),
    frqSeries(FRQ_L1563V, FRQ_L1563V_ERR, RED, 'triDown')],
  legend: { names: LEG_4G, rows: [1587, 1619, 1651, 1682], lx: [1615.6, 1615.6], tx: 1647, line: false, colors: COL4, shapes: SHAPES }
});

panelLabel('I', 2, 2025);
const lineSeries = (xv, yv, err, color, shape) => ({ xv, yv, err, color, shape, connect: true });
panel({
  xDomain: [-35, 30], xRange: [131.7, 678.4], yDomain: [0, 2], yRange: [2398, 2001],
  xMajor: RISE_X_TICKS, xMinor: RISE_X_MINOR, xFmt: fmtI, yMajor: RISE_Y_TICKS, yMinor: RISE_Y_MINOR, yFmt: fmt1,
  xTitle: ['Test potential (mV)', 406, 2471],
  yTitles: [{ x: 57, y: 2200, parts: [['10-90% rise time (ms)', 28]] }],
  series: [
    lineSeries(RISE_V, RISE_WT, RISE_WT_ERR, BLACK, 'circle'),
    lineSeries(RISE_V, RISE_L1342P, RISE_L1342P_ERR, GREEN, 'square'),
    lineSeries(RISE_V, RISE_E1803G, RISE_E1803G_ERR, BLUE, 'triUp'),
    lineSeries(RISE_V, RISE_L1563V, RISE_L1563V_ERR, RED, 'triDown')],
  legend: { names: LEG_4I, rows: [2077, 2108, 2140, 2170], lx: [676.7, 705], tx: 720, line: true, colors: COL4, shapes: SHAPES }
});

panelLabel('K', 907, 2027);
panel({
  xDomain: [-15, 50], xRange: [1048.9, 1593.9], yDomain: [0, 1.5], yRange: [2398, 2001.7],
  xMajor: DEC_X_TICKS, xMinor: DEC_X_MINOR, xFmt: fmtI, yMajor: DEC_Y_TICKS, yMinor: DEC_Y_MINOR, yFmt: fmt1,
  xTitle: ['Test potential (mV)', 1321, 2471],
  yTitles: [{ x: 974, y: 2200, parts: [['Decay time constant (ms)', 28]] }],
  series: [
    lineSeries(DEC_V, DEC_WT, DEC_WT_ERR, BLACK, 'circle'),
    lineSeries(DEC_V, DEC_L1342P, DEC_L1342P_ERR, GREEN, 'square'),
    lineSeries(DEC_V, DEC_E1803G, DEC_E1803G_ERR, BLUE, 'triUp'),
    lineSeries(DEC_V, DEC_L1563V, DEC_L1563V_ERR, RED, 'triDown')],
  legend: { names: LEG_4I, rows: [2061, 2093, 2125, 2157], lx: [1597, 1627], tx: 1641, line: true, colors: COL4, shapes: SHAPES }
});
</script>
</body></html>
